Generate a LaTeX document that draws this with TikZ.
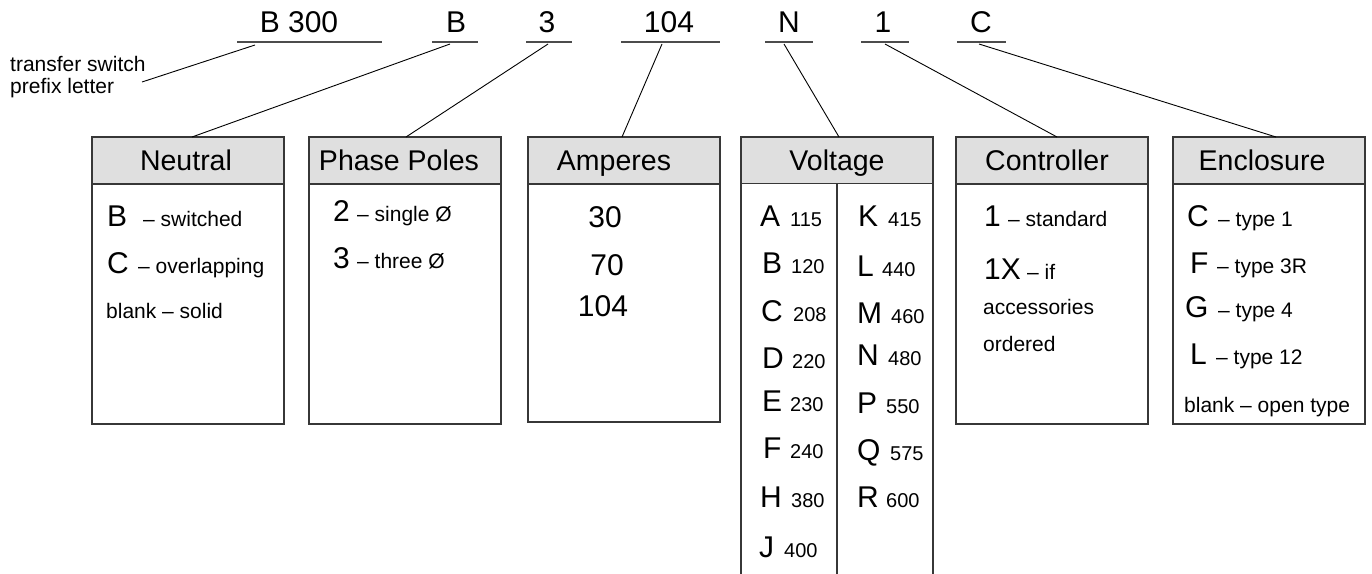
\documentclass[tikz,border=0pt]{standalone}
\usepackage{fontspec}
\setmainfont{Liberation Sans}
\definecolor{hdrfill}{RGB}{223,223,223}
\definecolor{edge}{RGB}{55,55,55}
\newcommand\fcode{\fontsize{30}{32}\selectfont}
\newcommand\fhead{\fontsize{28.5}{32}\selectfont}
\newcommand\fbig{\fontsize{30}{32}\selectfont}
\newcommand\fsmall{\fontsize{21}{24}\selectfont}
\newcommand\fnum{\fontsize{20}{24}\selectfont}
\begin{document}
\begin{tikzpicture}[x=1pt,y=-1pt,
  hdrbox/.style={draw=edge,fill=hdrfill,line width=1.3pt,minimum width=192pt,
    minimum height=47pt,anchor=north west,inner sep=0pt,outer sep=0pt},
  bodybox/.style={draw=edge,fill=white,line width=1.3pt,minimum width=192pt,
    anchor=north west,inner sep=0pt,outer sep=0pt},
  openbox/.style={bodybox,draw=none},
  hdrtext/.style={font=\fhead,anchor=base,inner sep=0pt},
  codetext/.style={font=\fcode,anchor=base,inner sep=0pt},
  big/.style={font=\fbig,anchor=base west,inner sep=0pt},
  small/.style={font=\fsmall,anchor=base west,inner sep=0pt},
  num/.style={font=\fnum,anchor=base west,inner sep=0pt},
  uline/.style={draw=black!70,line width=1.1pt},
  link/.style={draw=black,line width=0.9pt},
  edgeline/.style={draw=edge,line width=1.3pt}]
\useasboundingbox (0,0) rectangle (1372,573);

% ---- model code along the top ----
\node[codetext] (c300) at (299,32) {B 300};
\node[codetext] (cB)   at (456,32) {B};
\node[codetext] (c3)   at (547,32) {3};
\node[codetext] (c104) at (669,32) {104};
\node[codetext] (cN)   at (789,32) {N};
\node[codetext] (c1)   at (883,32) {1};
\node[codetext] (cC)   at (981,32) {C};

\path[uline] (237,42) -- (382,42)  (432,42) -- (478,42)  (526,42) -- (572,42)
  (621,42) -- (720,42)  (765,42) -- (813,42)  (861,42) -- (909,42)
  (957,42) -- (1006,42);

\coordinate (k300) at (255,45);
\coordinate (kB)   at (450,44);
\coordinate (k3)   at (548,44);
\coordinate (k104) at (662,44);
\coordinate (kN)   at (784,44);
\coordinate (k1)   at (885,44);
\coordinate (kC)   at (979,44);

% ---- prefix note ----
\node[small] (tr1) at (10,71) {transfer switch};
\node[small] (tr2) at (10,93) {prefix letter};
\coordinate (trend) at (142,82);
\draw[link] (trend) -- (k300);

% ---- boxes ----
\node[hdrbox] (hN) at (92,137) {};
\node[bodybox,minimum height=240pt] (bN) at (hN.south west) {};
\node[hdrtext] (tN) at (186,170) {Neutral};

\node[hdrbox] (hP) at (309,137) {};
\node[bodybox,minimum height=240pt] (bP) at (hP.south west) {};
\node[hdrtext] (tP) at (399,170) {Phase Poles};

\node[hdrbox] (hA) at (528,137) {};
\node[bodybox,minimum height=238pt] (bA) at (hA.south west) {};
\node[hdrtext] (tA) at (614,170) {Amperes};

\node[hdrbox] (hV) at (741,137) {};
\node[openbox,minimum height=400pt] (bV) at (hV.south west) {};
\draw[edgeline] (bV.north west) -- (bV.south west)
  (bV.north east) -- (bV.south east) (bV.north) -- (bV.south);
\node[hdrtext] (tV) at (837,170) {Voltage};

\node[hdrbox] (hC) at (956,137) {};
\node[bodybox,minimum height=240pt] (bC) at (hC.south west) {};
\node[hdrtext] (tC) at (1047,170) {Controller};

\node[hdrbox] (hE) at (1173,137) {};
\node[bodybox,minimum height=240pt] (bE) at (hE.south west) {};
\node[hdrtext] (tE) at (1262,170) {Enclosure};

% ---- connectors from code positions to boxes ----
\draw[link] (kB)   -- ([xshift=100pt]hN.north west);
\draw[link] (k3)   -- ([xshift=97pt]hP.north west);
\draw[link] (k104) -- ([xshift=94pt]hA.north west);
\draw[link] (kN)   -- ([xshift=98pt]hV.north west);
\draw[link] (k1)   -- ([xshift=101pt]hC.north west);
\draw[link] (kC)   -- ([xshift=103pt]hE.north west);

% ---- Neutral ----
\node[big]   (n1) at (107,226) {B};
\node[small] (n1t) at (143,226) {– switched};
\node[big]   (n2) at (107,273) {C};
\node[small] (n2t) at (138,273) {– overlapping};
\node[small] (n3) at (106,318) {blank – solid};

% ---- Phase Poles ----
\node[big]   (p1) at (333,221) {2};
\node[small] (p1t) at (357,221) {– single Ø};
\node[big]   (p2) at (333,268) {3};
\node[small] (p2t) at (357,268) {– three Ø};

% ---- Amperes ----
\node[font=\fbig,anchor=base,inner sep=0pt] (a1) at (605,227) {30};
\node[font=\fbig,anchor=base,inner sep=0pt] (a2) at (607,275) {70};
\node[font=\fbig,anchor=base,inner sep=0pt] (a3) at (603,316) {104};

% ---- Voltage ----
\foreach \l/\v/\y/\lx/\vx [count=\i] in {A/115/226/760/790, B/120/273/762/791,
    C/208/321/761/793, D/220/368/762/792, E/230/411/762/790, F/240/458/763/790,
    H/380/507/760/791, J/400/557/759/784}{
  \node[big] (vl\i) at (\lx,\y) {\l};
  \node[num] (vv\i) at (\vx,\y) {\v};
}
\foreach \l/\v/\y/\lx/\vx [count=\i] in {K/415/226/858/888, L/440/276/857/882,
    M/460/323/857/891, N/480/365/857/888, P/550/413/857/886, Q/575/460/857/890,
    R/600/507/857/886}{
  \node[big] (wl\i) at (\lx,\y) {\l};
  \node[num] (wv\i) at (\vx,\y) {\v};
}

% ---- Controller ----
\node[big]   (r1) at (984,226) {1};
\node[small] (r1t) at (1008,226) {– standard};
\node[big]   (r2) at (984,279) {1X};
\node[small] (r2t) at (1027,279) {– if};
\node[small] (r3) at (983,314) {accessories};
\node[small] (r4) at (983,351) {ordered};

% ---- Enclosure ----
\node[big]   (e1) at (1187,226) {C};
\node[small] (e1t) at (1218,226) {– type 1};
\node[big]   (e2) at (1190,273) {F};
\node[small] (e2t) at (1217,273) {– type 3R};
\node[big]   (e3) at (1185,317) {G};
\node[small] (e3t) at (1218,317) {– type 4};
\node[big]   (e4) at (1190,364) {L};
\node[small] (e4t) at (1216,364) {– type 12};
\node[small] (e5) at (1184,412) {blank – open type};
\end{tikzpicture}
\end{document}
